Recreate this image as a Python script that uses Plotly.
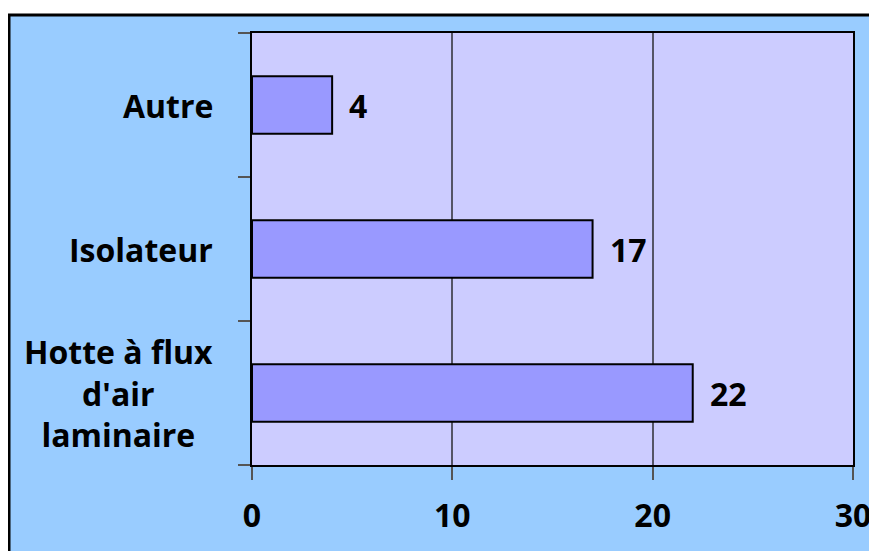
import plotly.graph_objects as go

# data (bottom to top, as drawn)
categories = ["Hotte à flux<br>d'air<br>laminaire", "Isolateur", "Autre"]
values = [22, 17, 4]
x_ticks = [0, 10, 20, 30]

FONT = dict(family="Open Sans", size=32, color="black", weight="bold")

# page has an 8px body margin, so figure coords are shifted by 8
FW, FH = 869, 543
L, T, W, H = 244, 25, 601, 432

fig = go.Figure()
fig.add_trace(go.Bar(
    y=categories,
    x=values,
    orientation="h",
    width=0.4,
    marker=dict(color="#9999FF", line=dict(color="black", width=2)),
    hoverinfo="skip"
))

# category labels, centred lines like the original
for cat in categories:
    fig.add_annotation(
        x=0, xref="x domain", y=cat, yref="y",
        text=cat, showarrow=False, xanchor="right", align="center",
        xshift=-37, font=FONT
    )

# value labels
for cat, val in zip(categories, values):
    fig.add_annotation(
        x=val, y=cat, text=str(val), showarrow=False,
        xanchor="left", xshift=15, font=FONT
    )

# blue chart area with black frame
fig.add_shape(
    type="rect", xref="paper", yref="paper",
    x0=(1 - L) / W, x1=2, y0=-1, y1=1 + (T - 7) / H,
    fillcolor="#99CCFF", line=dict(color="black", width=3), layer="below"
)
# lavender plot area
fig.add_shape(
    type="rect", xref="paper", yref="paper",
    x0=0, x1=1, y0=0, y1=1,
    fillcolor="#CCCCFF", line=dict(width=0), layer="below"
)

fig.update_layout(
    width=FW, height=FH,
    margin=dict(l=L, r=FW - L - W, t=T, b=FH - T - H),
    paper_bgcolor="white",
    plot_bgcolor="#CCCCFF",
    showlegend=False,
    bargap=0.6,
    xaxis=dict(
        range=[0, 30], tickvals=x_ticks, ticks="outside", ticklen=13,
        tickcolor="#555555", tickwidth=1.5, ticklabelstandoff=9,
        showgrid=True, gridcolor="#555566", gridwidth=1.5,
        showline=True, linecolor="black", linewidth=2, mirror=True,
        zeroline=False, tickfont=FONT, fixedrange=True, automargin=False
    ),
    yaxis=dict(
        categoryorder="array", categoryarray=categories,
        ticks="outside", ticklen=12, tickson="boundaries",
        tickcolor="#555555", tickwidth=1.5, showticklabels=False,
        showgrid=False,
        showline=True, linecolor="black", linewidth=2, mirror=True,
        fixedrange=True, automargin=False
    )
)

fig.write_html("out.html")
